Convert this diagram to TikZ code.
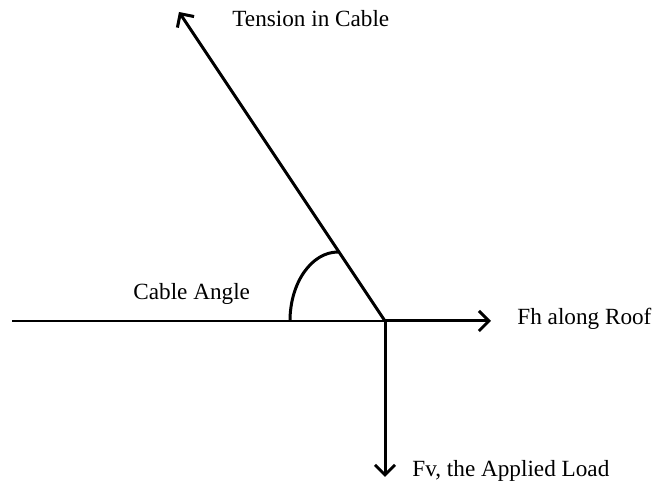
\documentclass[tikz,border=0pt]{standalone}
\usepackage{fontspec}
\setmainfont{Liberation Serif}
\usetikzlibrary{arrows.meta,positioning}
\tikzset{
    force/.style={line width=1.5pt,-{Straight Barb[length=5pt,width=10pt,line width=1.5pt]}},
    roof/.style={line width=1pt},
    lbl/.style={inner sep=0pt,anchor=base west,font=\fontsize{11.6}{13}\selectfont},
}
\begin{document}
\begin{tikzpicture}[x=0.5pt,y=0.5pt]
    \useasboundingbox (0,0) rectangle (655,493);
    \coordinate (o) at (385,172);
    \coordinate (roofend) at (12,172);
    \coordinate (fh) at (491,172);
    \coordinate (fv) at (385,16);
    \coordinate (ten) at (179,481);
    \coordinate (arcstart) at (290,172);

    \node[lbl] (tenlbl) at (232,466) {Tension in Cable};
    \node[lbl] (anglbl) at (133,193) {Cable Angle};
    \node[lbl] (fhlbl) at (517,168) {Fh along Roof};
    \node[lbl] (fvlbl) at (412,16) {Fv, the Applied Load};

    \draw[roof] (roofend) -- (o);
    \draw[line width=1.5pt] (arcstart) arc[start angle=180,end angle=90,x radius=48,y radius=69];
    \draw[force] (o) -- (ten);
    \draw[force] (o) -- (fh);
    \draw[force] (o) -- (fv);
\end{tikzpicture}
\end{document}
